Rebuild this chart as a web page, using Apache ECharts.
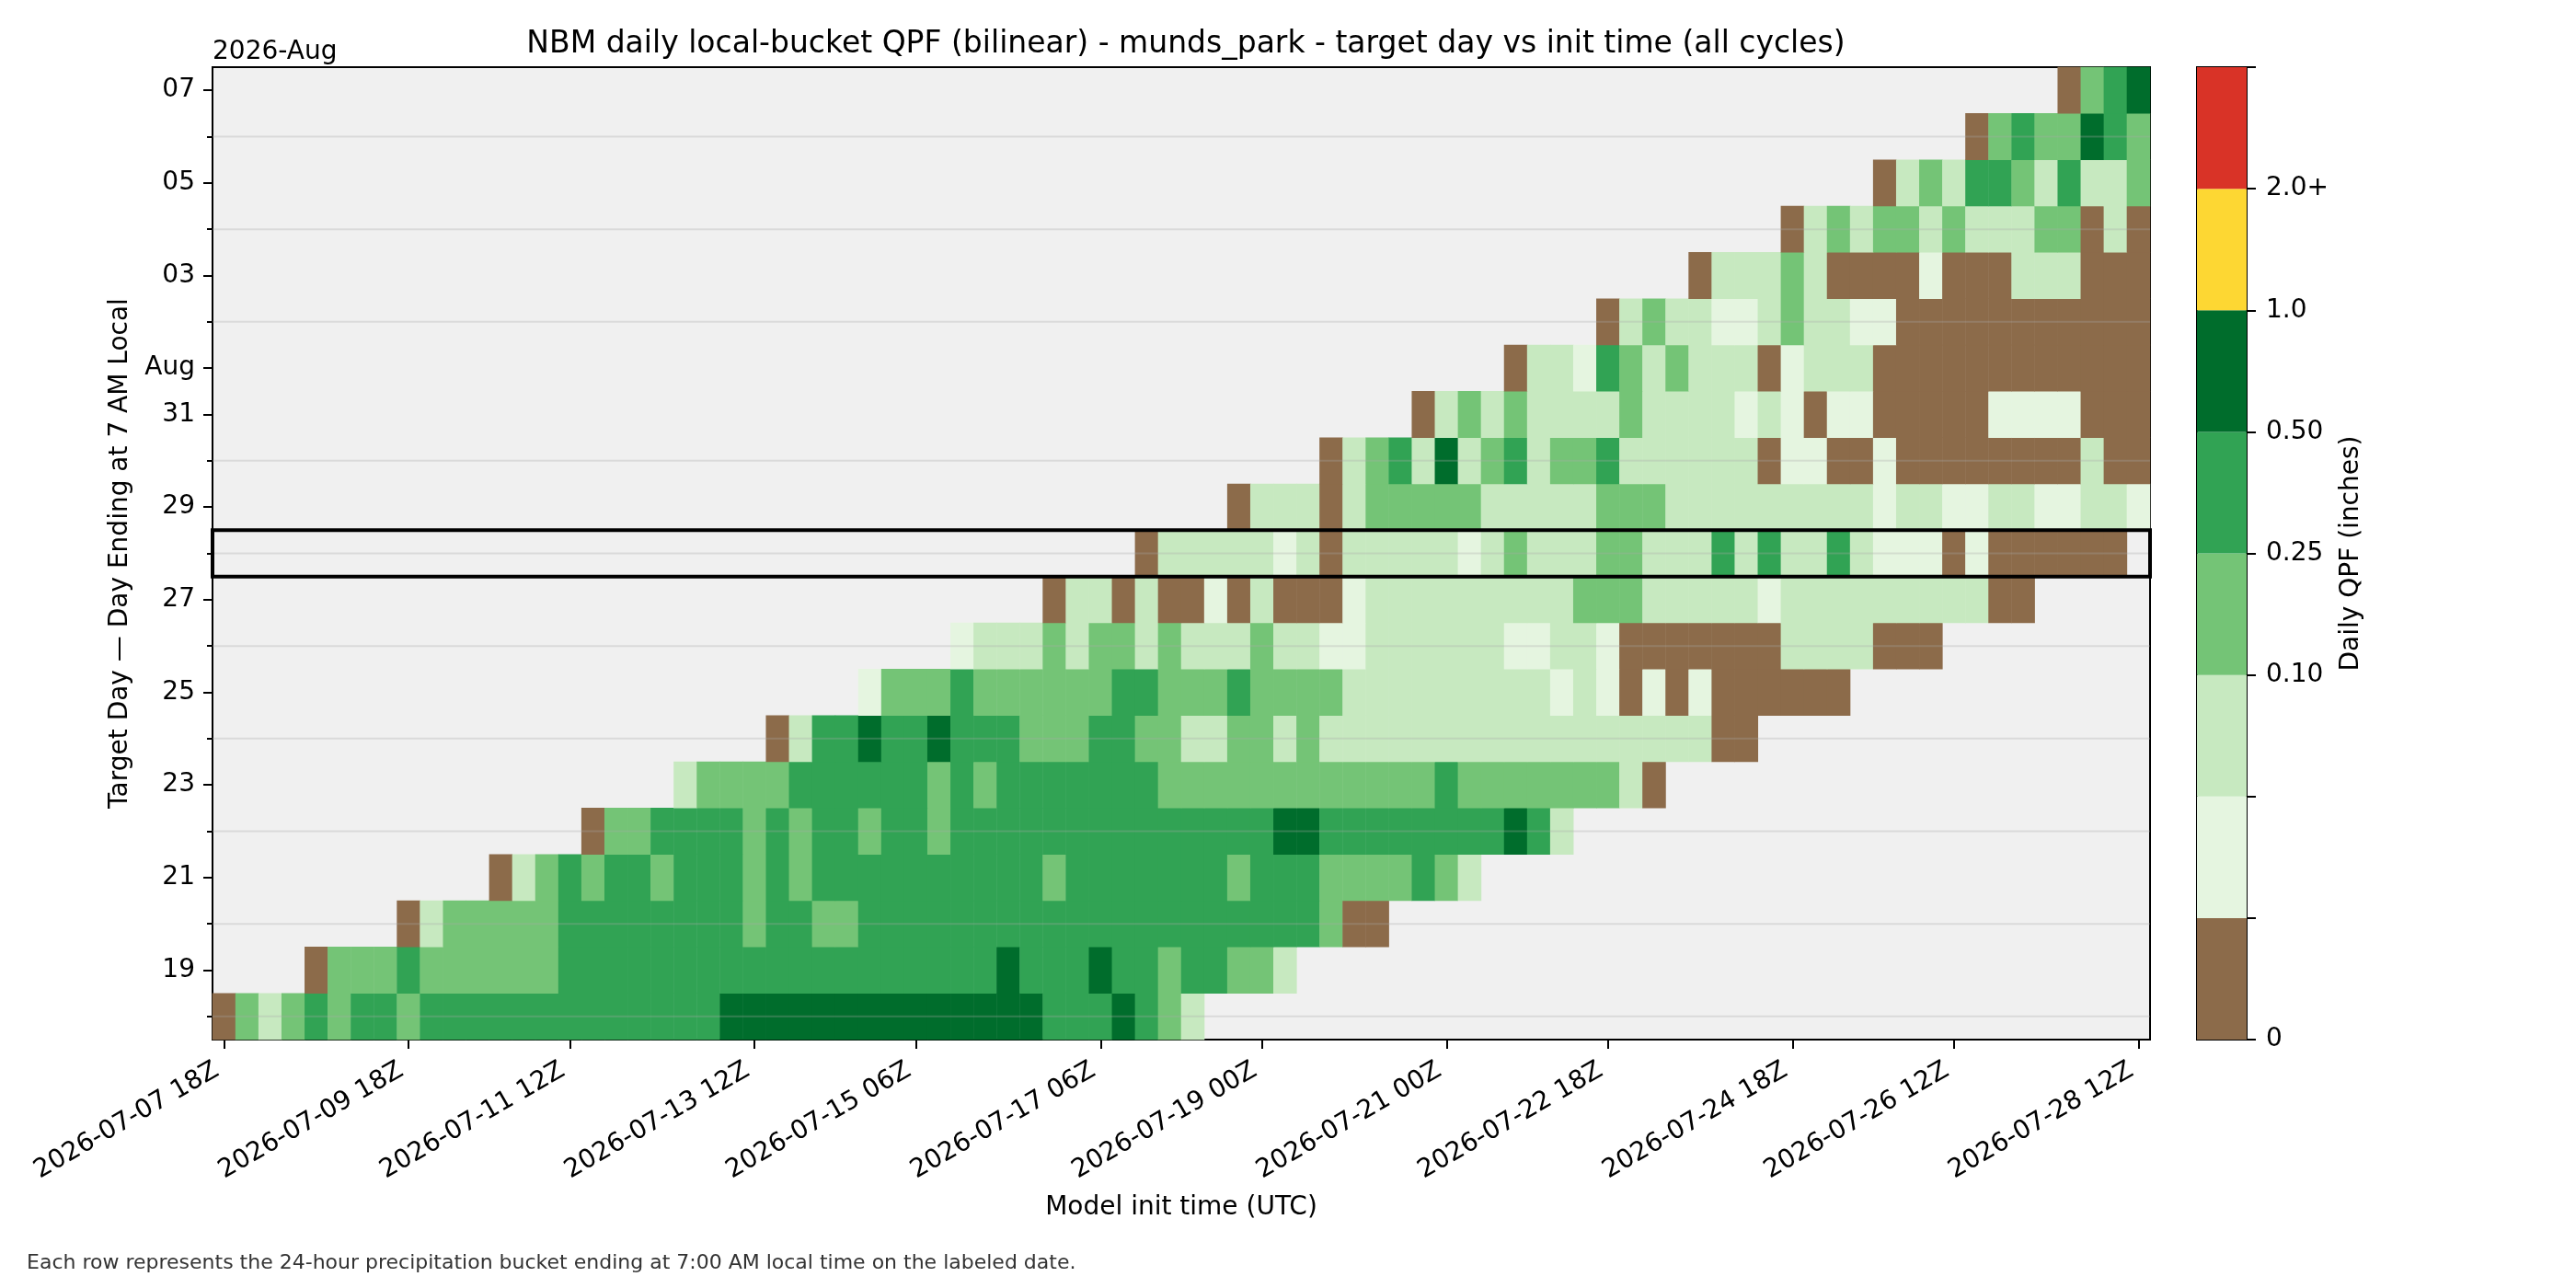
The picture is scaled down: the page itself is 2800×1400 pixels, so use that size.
<!DOCTYPE html>
<html>
<head>
<meta charset="utf-8">
<script src="https://cdn.jsdelivr.net/npm/echarts@6/dist/echarts.min.js"></script>
<style>html,body{margin:0;padding:0;background:#fff}#chart{width:2800px;height:1400px}</style>
</head>
<body>
<div id="chart"></div>
<script>
// ---------------- DATA ----------------
const chartTitle = 'NBM daily local-bucket QPF (bilinear) - munds_park - target day vs init time (all cycles)';
const xAxisTitle = 'Model init time (UTC)';
const yAxisTitle = 'Target Day \u2014 Day Ending at 7 AM Local';
const cbTitle = 'Daily QPF (inches)';
const offsetLabel = '2026-Aug';
const footnote = 'Each row represents the 24-hour precipitation bucket ending at 7:00 AM local time on the labeled date.';

const targetDays = ['2026-07-18','2026-07-19','2026-07-20','2026-07-21','2026-07-22','2026-07-23','2026-07-24',
  '2026-07-25','2026-07-26','2026-07-27','2026-07-28','2026-07-29','2026-07-30','2026-07-31',
  '2026-08-01','2026-08-02','2026-08-03','2026-08-04','2026-08-05','2026-08-06','2026-08-07'];
const yTickDays   = ['2026-07-19','2026-07-21','2026-07-23','2026-07-25','2026-07-27','2026-07-29','2026-07-31','2026-08-01','2026-08-03','2026-08-05','2026-08-07'];
const yTickLabels = ['19','21','23','25','27','29','31','Aug','03','05','07'];
const gridDays = ['2026-07-18','2026-07-20','2026-07-22','2026-07-24','2026-07-26','2026-07-28','2026-07-30','2026-08-02','2026-08-04','2026-08-06'];
const highlightDay = '2026-07-28';
const xTickLabels = ['2026-07-07 18Z','2026-07-09 18Z','2026-07-11 12Z','2026-07-13 12Z','2026-07-15 06Z','2026-07-17 06Z',
  '2026-07-19 00Z','2026-07-21 00Z','2026-07-22 18Z','2026-07-24 18Z','2026-07-26 12Z','2026-07-28 12Z'];

// first init cycle that forecasts each target day
const firstInit = ['2026-07-07 18Z','2026-07-08 18Z','2026-07-09 18Z','2026-07-10 18Z','2026-07-11 18Z','2026-07-12 18Z','2026-07-13 18Z',
  '2026-07-14 18Z','2026-07-15 18Z','2026-07-16 18Z','2026-07-17 18Z','2026-07-18 18Z','2026-07-19 18Z','2026-07-20 18Z',
  '2026-07-21 18Z','2026-07-22 18Z','2026-07-23 18Z','2026-07-24 18Z','2026-07-25 18Z','2026-07-26 18Z','2026-07-27 18Z'];

// daily QPF (inches) per target day, successive 6-hourly init cycles starting at firstInit
const qpf_0718 = [0,0.17,0.07,0.17,0.35,0.17,0.35,0.35,0.17,
  0.35,0.35,0.35,0.35,0.35,0.35,0.35,0.35,0.35,0.35,0.35,0.35,0.35,
  0.7,0.7,0.7,0.7,0.7,0.7,0.7,0.7,0.7,0.7,0.7,0.7,0.7,0.7,
  0.35,0.35,0.35,0.7,0.35,0.17,0.07];
const qpf_0719 = [0,0.17,0.17,0.17,0.35,0.17,0.17,0.17,0.17,0.17,0.17,
  0.35,0.35,0.35,0.35,0.35,0.35,0.35,0.35,0.35,0.35,0.35,0.35,0.35,0.35,0.35,0.35,0.35,0.35,0.35,
  0.7,0.35,0.35,0.35,0.7,0.35,0.35,0.17,0.35,0.35,0.17,0.17,0.07];
const qpf_0720 = [0,0.07,0.17,0.17,0.17,0.17,0.17,
  0.35,0.35,0.35,0.35,0.35,0.35,0.35,0.35,0.17,0.35,0.35,0.17,0.17,
  0.35,0.35,0.35,0.35,0.35,0.35,0.35,0.35,0.35,0.35,0.35,0.35,0.35,0.35,0.35,0.35,0.35,0.35,0.35,0.35,
  0.17,0,0];
const qpf_0721 = [0,0.07,0.17,0.35,0.17,0.35,0.35,0.17,0.35,0.35,0.35,0.17,0.35,0.17,
  0.35,0.35,0.35,0.35,0.35,0.35,0.35,0.35,0.35,0.35,0.17,
  0.35,0.35,0.35,0.35,0.35,0.35,0.35,0.17,0.35,0.35,0.35,0.17,0.17,0.17,0.17,0.35,0.17,0.07];
const qpf_0722 = [0,0.17,0.17,0.35,0.35,0.35,0.35,0.17,0.35,0.17,0.35,0.35,0.17,0.35,0.35,0.17,
  0.35,0.35,0.35,0.35,0.35,0.35,0.35,0.35,0.35,0.35,0.35,0.35,0.35,0.35,
  0.7,0.7,0.35,0.35,0.35,0.35,0.35,0.35,0.35,0.35,0.7,0.35,0.07];
const qpf_0723 = [0.07,0.17,0.17,0.17,0.17,0.35,0.35,0.35,0.35,0.35,0.35,0.17,0.35,0.17,
  0.35,0.35,0.35,0.35,0.35,0.35,0.35,
  0.17,0.17,0.17,0.17,0.17,0.17,0.17,0.17,0.17,0.17,0.17,0.17,0.35,
  0.17,0.17,0.17,0.17,0.17,0.17,0.17,0.07,0];
const qpf_0724 = [0,0.07,0.35,0.35,0.7,0.35,0.35,0.7,0.35,0.35,0.35,0.17,0.17,0.17,0.35,0.35,0.17,0.17,0.07,0.07,0.17,0.17,0.07,0.17,
  0.07,0.07,0.07,0.07,0.07,0.07,0.07,0.07,0.07,0.07,0.07,0.07,0.07,0.07,0.07,0.07,0.07,0,0];
const qpf_0725 = [0.03,0.17,0.17,0.17,0.35,0.17,0.17,0.17,0.17,0.17,0.17,0.35,0.35,0.17,0.17,0.17,0.35,0.17,0.17,0.17,0.17,
  0.07,0.07,0.07,0.07,0.07,0.07,0.07,0.07,0.07,0.03,0.07,0.03,0,0.03,0,0.03,0,0,0,0,0,0];
const qpf_0726 = [0.03,0.07,0.07,0.07,0.17,0.07,0.17,0.17,0.07,0.17,0.07,0.07,0.07,0.17,0.07,0.07,0.03,0.03,
  0.07,0.07,0.07,0.07,0.07,0.07,0.03,0.03,0.07,0.07,0.03,0,0,0,0,0,0,0,0.07,0.07,0.07,0.07,0,0,0];
const qpf_0727 = [0,0.07,0.07,0,0.07,0,0,0.03,0,0.07,0,0,0,0.03,
  0.07,0.07,0.07,0.07,0.07,0.07,0.07,0.07,0.07,0.17,0.17,0.17,0.07,0.07,0.07,0.07,0.07,0.03,
  0.07,0.07,0.07,0.07,0.07,0.07,0.07,0.07,0.07,0,0];
const qpf_0728 = [0,0.07,0.07,0.07,0.07,0.07,0.03,0.07,0,0.07,0.07,0.07,0.07,0.07,0.03,0.07,0.17,0.07,0.07,0.07,
  0.17,0.17,0.07,0.07,0.07,0.35,0.07,0.35,0.07,0.07,0.35,0.07,0.03,0.03,0.03,0,0.03,0,0,0,0,0,0];
const qpf_0729 = [0,0.07,0.07,0.07,0,0.07,0.17,0.17,0.17,0.17,0.17,0.07,0.07,0.07,0.07,0.07,0.17,0.17,0.17,
  0.07,0.07,0.07,0.07,0.07,0.07,0.07,0.07,0.07,0.03,0.07,0.07,0.03,0.03,0.07,0.07,0.03,0.03,0.07,0.07,0.03];
const qpf_0730 = [0,0.07,0.17,0.35,0.07,0.7,0.07,0.17,0.35,0.07,0.17,0.17,0.35,0.07,0.07,0.07,0.07,0.07,0.07,
  0,0.03,0.03,0,0,0.03,0,0,0,0,0,0,0,0,0.07,0,0];
const qpf_0731 = [0,0.07,0.17,0.07,0.17,0.07,0.07,0.07,0.07,0.17,0.07,0.07,0.07,0.07,0.03,0.07,0.03,0,0.03,0.03,
  0,0,0,0,0,0.03,0.03,0.03,0.03,0,0,0];
const qpf_0801 = [0,0.07,0.07,0.03,0.35,0.17,0.07,0.17,0.07,0.07,0.07,0,0.03,0.07,0.07,0.07,
  0,0,0,0,0,0,0,0,0,0,0,0];
const qpf_0802 = [0,0.07,0.17,0.07,0.07,0.03,0.03,0.07,0.17,0.07,0.07,0.03,0.03,
  0,0,0,0,0,0,0,0,0,0,0];
const qpf_0803 = [0,0.07,0.07,0.07,0.17,0.07,0,0,0,0,0.03,0,0,0,0.07,0.07,0.07,0,0,0];
const qpf_0804 = [0,0.07,0.17,0.07,0.17,0.17,0.07,0.17,0.07,0.07,0.07,0.17,0.17,0,0.07,0];
const qpf_0805 = [0,0.07,0.17,0.07,0.35,0.35,0.17,0.07,0.35,0.07,0.07,0.17];
const qpf_0806 = [0,0.17,0.35,0.17,0.17,0.7,0.35,0.17];
const qpf_0807 = [0,0.17,0.35,0.7];

const qpfRows = [qpf_0718,qpf_0719,qpf_0720,qpf_0721,qpf_0722,qpf_0723,qpf_0724,qpf_0725,qpf_0726,qpf_0727,
  qpf_0728,qpf_0729,qpf_0730,qpf_0731,qpf_0801,qpf_0802,qpf_0803,qpf_0804,qpf_0805,qpf_0806,qpf_0807];

// colour bins
const cbBounds = [0, 0.01, 0.05, 0.10, 0.25, 0.50, 1.0, 2.0];
const cbTickLabels = ['0','','','0.10','0.25','0.50','1.0','2.0+',''];
const cbColors = ['#8c6b4a','#e5f5e0','#c7e9c0','#74c476','#31a354','#006d2c','#fdd733','#d93327'];

// ---------------- BUILD ----------------
function pad(n){return (n<10?'0':'')+n;}
const initTimes = [];
for (let t = Date.UTC(2026,6,7,18); t <= Date.UTC(2026,6,28,12); t += 6*3600*1000) {
  const d = new Date(t);
  initTimes.push(d.getUTCFullYear()+'-'+pad(d.getUTCMonth()+1)+'-'+pad(d.getUTCDate())+' '+pad(d.getUTCHours())+'Z');
}
const heatData = [];
qpfRows.forEach((row, r) => {
  const base = initTimes.indexOf(firstInit[r]);
  row.forEach((v, j) => { if (base + j < initTimes.length) heatData.push([base + j, r, v]); });
});

const pieces = cbBounds.map((b, i) => {
  const p = {color: cbColors[i]};
  if (i === 0) { p.min = -1; p.lt = cbBounds[1]; }
  else if (i === cbBounds.length - 1) { p.gte = b; p.max = 100; }
  else { p.gte = b; p.lt = cbBounds[i + 1]; }
  return p;
});

const FONT = 'DejaVu Sans';
const isXTick = (i, v) => xTickLabels.indexOf(v) >= 0;
const isYTick = (i, v) => yTickDays.indexOf(v) >= 0;
const isYMinor = (i, v) => yTickDays.indexOf(v) < 0;

const cbSeries = cbColors.map((c, i) => ({
  type: 'bar', xAxisIndex: 1, yAxisIndex: 2, stack: 'cb', barWidth: '100%', silent: true,
  data: [ (i + 1) - i ], itemStyle: {color: c}
}));

const chart = echarts.init(document.getElementById('chart'), null, {renderer: 'canvas'});
chart.setOption({
  animation: false,
  backgroundColor: '#ffffff',
  textStyle: {fontFamily: FONT},
  title: {
    text: chartTitle, left: 1284, top: 27, textAlign: 'center',
    textStyle: {fontSize: 33, fontWeight: 'normal', color: '#000', fontFamily: FONT}
  },
  grid: [
    {left: 231, top: 73, width: 2106, height: 1057, show: true, backgroundColor: '#f0f0f0', borderColor: '#000', borderWidth: 2},
    {left: 2388, top: 73, width: 54, height: 1057, show: true, backgroundColor: 'rgba(0,0,0,0)', borderColor: '#000', borderWidth: 2}
  ],
  visualMap: {type: 'piecewise', show: false, dimension: 2, seriesIndex: 0, pieces: pieces},
  xAxis: [
    {
      type: 'category', gridIndex: 0, data: initTimes, boundaryGap: true,
      axisLine: {show: true, lineStyle: {color: '#000', width: 2}},
      axisTick: {show: true, alignWithLabel: true, interval: isXTick, length: 10, lineStyle: {color: '#000', width: 2}},
      axisLabel: {interval: isXTick, rotate: 30, fontSize: 28, color: '#000', margin: 27, padding: [0, 9, 0, 0], fontFamily: FONT},
      splitLine: {show: false},
      name: xAxisTitle, nameLocation: 'middle', nameGap: 169,
      nameTextStyle: {fontSize: 28, color: '#000', fontFamily: FONT}
    },
    {type: 'category', gridIndex: 1, data: ['cb'], show: false, boundaryGap: true}
  ],
  yAxis: [
    {
      type: 'category', gridIndex: 0, data: targetDays, boundaryGap: true, position: 'left',
      axisLine: {show: true, lineStyle: {color: '#000', width: 2}},
      axisTick: {show: true, alignWithLabel: true, interval: isYTick, length: 10, lineStyle: {color: '#000', width: 2}},
      axisLabel: {interval: isYTick, fontSize: 28, color: '#000', margin: 19, fontFamily: FONT,
        formatter: v => { const k = yTickDays.indexOf(v); return k >= 0 ? yTickLabels[k] : ''; }},
      splitLine: {show: false},
      name: yAxisTitle, nameLocation: 'middle', nameRotate: 90, nameGap: 86,
      nameTextStyle: {fontSize: 28, color: '#000', fontFamily: FONT}
    },
    {
      type: 'category', gridIndex: 0, data: targetDays, boundaryGap: true, position: 'left',
      axisLine: {show: false},
      axisTick: {show: true, alignWithLabel: true, interval: isYMinor, length: 6, lineStyle: {color: '#000', width: 2}},
      axisLabel: {show: false}, splitLine: {show: false}
    },
    {
      type: 'value', gridIndex: 1, min: 0, max: 8, interval: 1, position: 'right',
      axisLine: {show: false},
      axisTick: {show: true, length: 10, lineStyle: {color: '#000', width: 2}},
      axisLabel: {fontSize: 28, color: '#000', margin: 21, fontFamily: FONT, formatter: v => cbTickLabels[v] || ''},
      splitLine: {show: false},
      name: cbTitle, nameLocation: 'middle', nameRotate: 90, nameGap: 100,
      nameTextStyle: {fontSize: 28, color: '#000', fontFamily: FONT}
    }
  ],
  series: [
    {
      type: 'heatmap', xAxisIndex: 0, yAxisIndex: 0, data: heatData, silent: true,
      itemStyle: {borderWidth: 0}, emphasis: {disabled: true}, progressive: 0
    },
    {
      type: 'custom', xAxisIndex: 0, yAxisIndex: 0, silent: true, z: 5,
      data: gridDays.map(d => [initTimes[0], d]),
      renderItem: (params, api) => {
        const cs = params.coordSys;
        const y = api.coord([api.value(0), api.value(1)])[1];
        return {type: 'line', shape: {x1: cs.x, y1: y, x2: cs.x + cs.width, y2: y},
          style: {stroke: 'rgba(170,170,170,0.3)', lineWidth: 2}};
      }
    },
    {
      type: 'custom', xAxisIndex: 0, yAxisIndex: 0, silent: true, z: 6,
      data: [[initTimes[0], highlightDay]],
      renderItem: (params, api) => {
        const cs = params.coordSys;
        const c = api.coord([api.value(0), api.value(1)]);
        const sz = api.size([1, 1]);
        return {type: 'rect', shape: {x: cs.x, y: c[1] - sz[1] / 2, width: cs.width, height: sz[1]},
          style: {fill: 'none', stroke: '#000', lineWidth: 4}};
      }
    }
  ].concat(cbSeries),
  graphic: [
    {type: 'text', left: 231, top: 43, style: {text: offsetLabel, fontSize: 28, fill: '#000', fontFamily: FONT}},
    {type: 'text', left: 29, top: 1362, style: {text: footnote, fontSize: 22, fill: '#333', fontFamily: FONT}}
  ]
});
</script>
</body>
</html>
